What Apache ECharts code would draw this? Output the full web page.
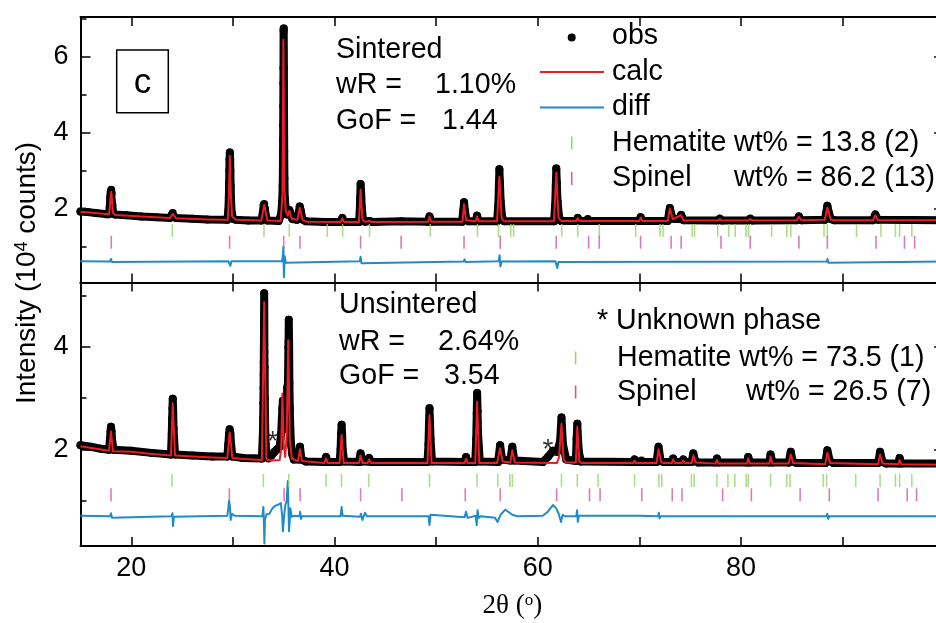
<!DOCTYPE html>
<html><head><meta charset="utf-8">
<script src="https://cdn.jsdelivr.net/npm/echarts@6/dist/echarts.min.js"></script>
<style>html,body{margin:0;padding:0;background:#fff;overflow:hidden}#c{width:960px;height:623px}</style>
</head><body><div id="c"></div><script>
// ---------- DATA (2θ in degrees, intensity in 10^4 counts) ----------
const sinteredObs = [[15.0,1.93],[15.5,1.92],[16.5,1.89],[17.5,1.86],[17.8,1.86],[17.88,2.05],[17.93,2.3],[17.98,2.45],[18.03,2.5],[18.08,2.4],[18.13,2.1],[18.2,1.9],[18.4,1.85],[19.5,1.83],[21,1.8],[22.5,1.78],[23.8,1.76],[24.0,1.85],[24.08,1.89],[24.2,1.8],[24.4,1.76],[26,1.74],[27.5,1.72],[29.45,1.71],[29.55,1.95],[29.6,2.3],[29.63,2.7],[29.65,3.0],[29.67,3.3],[29.7,3.48],[29.73,3.3],[29.75,3.0],[29.78,2.6],[29.82,2.2],[29.88,1.9],[30.0,1.74],[30.3,1.71],[31.5,1.69],[32.8,1.69],[32.95,1.9],[33.03,2.1],[33.08,2.13],[33.15,2.0],[33.25,1.8],[33.4,1.69],[34.5,1.68],[34.75,1.85],[34.85,2.2],[34.9,2.6],[34.92,2.9],[34.93,3.4],[34.94,3.8],[34.95,4.2],[34.96,4.7],[34.97,5.3],[34.98,5.7],[34.99,6.68],[35.0,6.75],[35.02,5.7],[35.03,4.6],[35.05,3.5],[35.07,2.8],[35.1,2.3],[35.2,2.0],[35.35,1.85],[35.55,1.97],[35.65,1.9],[35.85,1.73],[36.3,1.71],[36.48,1.9],[36.58,2.06],[36.68,1.95],[36.85,1.72],[37.2,1.67],[39,1.65],[40.6,1.65],[40.77,1.76],[40.95,1.65],[42.4,1.65],[42.48,1.9],[42.53,2.3],[42.57,2.65],[42.62,2.45],[42.68,2.05],[42.8,1.72],[43.0,1.66],[43.45,1.68],[43.7,1.65],[46.56,1.67],[49.2,1.66],[49.35,1.8],[49.5,1.66],[52.55,1.66],[52.68,1.95],[52.75,2.17],[52.83,1.95],[52.98,1.72],[53.2,1.67],[53.9,1.67],[54.03,1.82],[54.18,1.67],[56.0,1.67],[56.12,2.1],[56.18,2.6],[56.23,3.04],[56.28,2.7],[56.35,2.2],[56.5,1.78],[56.7,1.67],[61.6,1.67],[61.72,2.1],[61.78,2.6],[61.83,3.06],[61.88,2.7],[61.95,2.2],[62.1,1.78],[62.3,1.68],[63.8,1.68],[63.94,1.76],[64.1,1.68],[64.8,1.68],[64.93,1.73],[65.1,1.68],[70.0,1.68],[70.13,1.78],[70.3,1.68],[72.8,1.68],[72.93,1.9],[73.01,2.02],[73.1,1.9],[73.3,1.74],[73.9,1.73],[74.12,1.84],[74.35,1.7],[77.7,1.69],[77.92,1.74],[78.15,1.69],[80.7,1.69],[80.92,1.74],[81.15,1.69],[85.5,1.7],[85.71,1.8],[85.95,1.7],[88.25,1.71],[88.4,1.9],[88.51,2.08],[88.65,1.9],[88.85,1.73],[89.2,1.7],[93.0,1.7],[93.23,1.85],[93.5,1.71],[100,1.7]];
const sinteredCalc = [[15,1.92],[17.8,1.86],[17.9,2.05],[17.97,2.35],[18.03,2.45],[18.1,2.25],[18.2,1.9],[18.4,1.84],[21,1.8],[23.8,1.76],[24.08,1.87],[24.4,1.75],[27.5,1.72],[29.5,1.71],[29.6,2.3],[29.7,3.4],[29.8,2.4],[29.92,1.8],[30.3,1.71],[32.8,1.69],[33.08,2.1],[33.4,1.69],[34.7,1.68],[34.88,2.4],[34.97,6.45],[35.06,2.6],[35.2,1.95],[35.4,1.82],[35.55,1.95],[35.8,1.73],[36.35,1.71],[36.58,2.03],[36.85,1.71],[37.2,1.66],[40.6,1.65],[40.77,1.75],[40.95,1.65],[42.4,1.65],[42.57,2.5],[42.75,1.72],[43.0,1.66],[43.45,1.68],[43.7,1.65],[49.2,1.66],[49.35,1.79],[49.5,1.66],[52.6,1.66],[52.75,2.12],[52.95,1.7],[53.9,1.67],[54.03,1.8],[54.18,1.67],[56.0,1.67],[56.23,2.85],[56.45,1.75],[56.7,1.67],[61.6,1.67],[61.83,2.95],[62.05,1.76],[62.3,1.68],[63.8,1.68],[63.94,1.75],[64.1,1.68],[64.8,1.68],[64.93,1.72],[65.1,1.68],[70.0,1.68],[70.13,1.77],[70.3,1.68],[72.8,1.68],[73.01,2.0],[73.3,1.73],[74.12,1.83],[74.35,1.69],[77.7,1.69],[77.92,1.73],[78.15,1.69],[80.7,1.69],[80.92,1.73],[81.15,1.69],[85.5,1.7],[85.71,1.79],[85.95,1.7],[88.25,1.71],[88.51,2.03],[88.85,1.72],[89.2,1.7],[93.0,1.7],[93.23,1.83],[93.5,1.7],[100,1.7]];
const sinteredDiff = [[15,0.62],[17.9,0.61],[18.0,0.68],[18.1,0.6],[18.2,0.61],[29.55,0.62],[29.65,0.66],[29.75,0.5],[29.85,0.62],[34.85,0.62],[34.92,0.8],[34.97,1.0],[35.02,0.2],[35.1,0.75],[35.2,0.58],[35.3,0.62],[42.5,0.62],[42.57,0.74],[42.65,0.57],[42.75,0.61],[52.7,0.61],[52.8,0.67],[52.9,0.6],[56.15,0.62],[56.25,0.78],[56.33,0.48],[56.45,0.61],[61.75,0.62],[61.85,0.66],[61.92,0.44],[62.05,0.6],[62.2,0.61],[88.45,0.61],[88.52,0.68],[88.6,0.58],[88.7,0.61],[100,0.61]];
const sinteredHematite = [24.04,33.06,35.55,39.29,40.8,43.45,49.43,54.07,56.15,57.35,57.63,62.37,63.94,66.06,69.65,72.04,72.33,75.2,75.44,77.72,78.8,79.44,80.51,80.76,83.03,84.51,84.91,88.18,88.51,91.38,93.78,95.21,95.62,96.82];
const sinteredSpinel = [18.03,29.68,35.0,36.6,42.57,46.56,52.75,56.31,61.82,65.01,66.06,70.13,73.13,74.12,78.04,80.92,85.71,88.51,93.3,96.1,97.1];

const unsinteredObs = [[15,2.08],[16,2.05],[17,2.01],[17.8,1.99],[17.9,2.2],[17.96,2.35],[18.0,2.44],[18.05,2.35],[18.1,2.2],[18.25,1.99],[20,1.97],[22,1.93],[23.9,1.9],[23.98,2.3],[24.02,2.6],[24.05,2.8],[24.08,2.99],[24.12,2.75],[24.16,2.4],[24.3,1.9],[26,1.88],[28,1.86],[29.45,1.86],[29.55,2.1],[29.62,2.3],[29.68,2.39],[29.75,2.3],[29.82,2.1],[29.95,1.86],[31,1.83],[32.85,1.82],[32.95,2.3],[32.98,2.6],[33.0,2.9],[33.02,3.2],[33.03,3.45],[33.04,3.7],[33.05,3.95],[33.08,5.05],[33.1,3.9],[33.12,3.6],[33.14,3.0],[33.17,2.5],[33.22,2.1],[33.35,1.85],[33.5,1.82],[33.8,1.88],[34.1,1.95],[34.35,2.0],[34.6,2.05],[34.75,2.3],[34.82,2.6],[34.87,2.8],[34.92,2.95],[34.97,2.75],[35.05,2.5],[35.15,2.4],[35.25,2.7],[35.35,3.2],[35.42,3.3],[35.46,4.0],[35.48,4.1],[35.5,4.53],[35.53,4.1],[35.56,3.3],[35.6,2.8],[35.65,2.4],[35.72,2.1],[35.85,1.9],[36.0,1.8],[36.45,1.8],[36.6,2.05],[36.75,1.8],[37.2,1.76],[39.0,1.75],[39.17,1.85],[39.35,1.75],[40.5,1.75],[40.6,2.0],[40.65,2.3],[40.7,2.48],[40.75,2.3],[40.8,2.0],[40.95,1.76],[42.4,1.75],[42.57,1.92],[42.75,1.76],[43.25,1.76],[43.4,1.83],[43.6,1.75],[49.15,1.75],[49.25,2.1],[49.3,2.5],[49.35,2.8],[49.4,2.55],[49.45,2.2],[49.6,1.76],[52.8,1.75],[52.95,1.85],[53.1,1.75],[53.85,1.75],[53.95,2.2],[54.0,2.7],[54.04,3.1],[54.08,2.75],[54.13,2.3],[54.3,1.76],[56.1,1.75],[56.3,2.08],[56.5,1.8],[57.3,1.78],[57.5,2.05],[57.7,1.78],[60.5,1.75],[61.0,1.85],[61.5,1.97],[61.9,1.95],[62.2,2.15],[62.28,2.4],[62.34,2.62],[62.4,2.4],[62.48,2.1],[62.8,1.8],[63.75,1.77],[63.83,2.2],[63.9,2.5],[63.97,2.2],[64.05,1.95],[64.25,1.76],[69.4,1.75],[69.53,1.8],[69.7,1.75],[70.1,1.75],[70.21,1.78],[70.4,1.75],[71.7,1.75],[71.89,2.05],[72.1,1.78],[72.4,1.75],[73.2,1.75],[73.33,1.82],[73.5,1.75],[74.2,1.75],[74.33,1.8],[74.5,1.75],[75.15,1.75],[75.32,1.92],[75.5,1.77],[75.8,1.74],[77.5,1.74],[77.64,1.82],[77.8,1.74],[80.6,1.74],[80.72,1.85],[80.9,1.74],[82.8,1.74],[82.92,1.9],[83.1,1.74],[84.7,1.74],[84.91,1.95],[85.1,1.76],[85.5,1.73],[88.3,1.73],[88.51,1.98],[88.75,1.77],[89.1,1.73],[93.5,1.73],[93.7,1.95],[93.95,1.75],[94.3,1.72],[95.5,1.72],[95.62,1.83],[95.8,1.72],[100,1.72]];
const unsinteredCalc = [[15,2.06],[17.8,1.97],[18.0,2.35],[18.2,1.96],[20,1.95],[22,1.91],[23.9,1.88],[24.08,2.9],[24.3,1.88],[26,1.86],[28,1.84],[29.45,1.83],[29.68,2.33],[29.95,1.83],[31,1.81],[32.85,1.79],[33.08,4.88],[33.3,1.8],[33.8,1.78],[34.6,1.79],[34.75,2.0],[34.87,3.09],[35.0,2.1],[35.15,1.85],[35.3,2.3],[35.45,4.13],[35.6,2.2],[35.8,1.82],[36.4,1.77],[36.6,2.0],[36.8,1.77],[39.0,1.73],[39.17,1.82],[39.35,1.73],[40.5,1.73],[40.7,2.28],[40.9,1.73],[42.4,1.73],[42.57,1.88],[42.75,1.73],[43.25,1.73],[43.4,1.8],[43.6,1.73],[49.15,1.73],[49.35,2.67],[49.55,1.73],[52.8,1.73],[52.95,1.82],[53.1,1.73],[53.85,1.73],[54.04,2.93],[54.25,1.73],[56.0,1.73],[56.3,2.02],[56.55,1.76],[57.3,1.74],[57.5,1.98],[57.75,1.74],[61.9,1.73],[62.1,1.85],[62.34,2.5],[62.55,1.8],[62.8,1.74],[63.75,1.74],[63.9,2.44],[64.1,1.76],[64.3,1.73],[69.4,1.73],[69.53,1.78],[69.7,1.73],[70.1,1.73],[70.21,1.76],[70.4,1.73],[71.7,1.73],[71.89,2.0],[72.15,1.75],[72.4,1.73],[73.2,1.73],[73.33,1.8],[73.5,1.73],[74.2,1.73],[74.33,1.78],[74.5,1.73],[75.15,1.73],[75.32,1.88],[75.55,1.74],[77.5,1.72],[77.64,1.79],[77.8,1.72],[80.6,1.72],[80.72,1.82],[80.9,1.72],[82.8,1.72],[82.92,1.86],[83.1,1.72],[84.7,1.72],[84.91,1.9],[85.15,1.73],[88.3,1.71],[88.51,1.93],[88.8,1.73],[93.5,1.71],[93.7,1.9],[93.95,1.72],[95.5,1.71],[95.62,1.79],[95.8,1.71],[100,1.7]];
const unsinteredDiff = [[15,0.7],[17.9,0.69],[18.0,0.75],[18.1,0.66],[18.2,0.69],[23.95,0.69],[24.05,0.75],[24.1,0.5],[24.2,0.68],[29.45,0.7],[29.55,0.85],[29.62,1.0],[29.7,0.9],[29.78,0.62],[29.9,0.74],[30.2,0.7],[32.9,0.69],[33.0,0.87],[33.06,0.5],[33.1,0.16],[33.15,0.62],[33.3,0.73],[33.6,0.74],[33.9,0.85],[34.2,0.9],[34.5,0.92],[34.72,0.95],[34.85,0.7],[34.92,0.4],[35.0,0.6],[35.15,0.9],[35.3,1.0],[35.4,1.38],[35.45,1.0],[35.52,0.4],[35.58,0.55],[35.65,0.85],[35.8,0.68],[36.0,0.7],[36.55,0.69],[36.62,0.78],[36.7,0.64],[36.8,0.69],[40.6,0.69],[40.7,0.87],[40.8,0.7],[42.5,0.68],[42.6,0.74],[42.75,0.62],[43.0,0.76],[43.2,0.69],[49.25,0.69],[49.35,0.52],[49.45,0.72],[49.6,0.69],[52.8,0.67],[52.95,0.78],[53.1,0.66],[53.9,0.7],[54.0,0.52],[54.08,0.81],[54.2,0.66],[54.4,0.69],[55.8,0.66],[56.05,0.58],[56.35,0.72],[56.8,0.82],[57.1,0.78],[57.5,0.72],[58.0,0.69],[60.5,0.7],[61.0,0.78],[61.5,0.91],[61.8,0.85],[62.05,0.75],[62.3,0.58],[62.45,0.72],[62.7,0.69],[63.8,0.69],[63.88,0.81],[63.95,0.58],[64.05,0.7],[70,0.7],[71.85,0.69],[71.92,0.76],[72.0,0.65],[72.1,0.69],[88.4,0.69],[88.5,0.74],[88.6,0.64],[88.7,0.69],[100,0.69]];
const unsinteredHematite = [24.0,33.0,35.5,39.17,40.69,43.37,49.35,54.03,56.07,57.26,57.51,62.34,63.9,65.94,69.53,71.93,72.21,75.13,75.4,77.64,78.72,79.4,80.51,80.72,82.92,84.51,84.83,88.1,88.43,91.3,93.7,95.21,95.62,96.82];
const unsinteredSpinel = [18.0,29.65,35.04,36.62,42.57,46.64,52.87,56.31,61.86,65.1,66.14,70.25,73.24,74.2,78.2,81.03,85.83,88.7,93.5,96.37,97.29];
const unknownPhase = [[33.91,2.14],[61.0,1.98]];

// reflection-marker rows (intensity level of each tick row)
const tickRows = { sintered: {hematite: 1.43, spinel: 1.12}, unsintered: {hematite: 1.39, spinel: 1.11} };

const xLabels = [20, 40, 60, 80];
const yLabels = [2, 4, 6];
const panelRange = { sintered: [0.06, 7.05], unsintered: [0.11, 5.26] };

const legendTop = ['obs', 'calc', 'diff', 'Hematite', 'wt% = 13.8 (2)', 'Spinel', 'wt% = 86.2 (13)'];
const legendBottom = ['* Unknown phase', 'Hematite wt% = 73.5 (1)', 'Spinel', 'wt% = 26.5 (7)'];
const statsTop = ['Sintered', 'wR =', '1.10%', 'GoF =', '1.44'];
const statsBottom = ['Unsintered', 'wR =', '2.64%', 'GoF =', '3.54'];

// ---------- STYLE ----------
const SANS = 'Liberation Sans, Arial, sans-serif';
const SERIF = 'Liberation Serif, Times New Roman, serif';
const RED = '#ec1c24', BLUE = '#1f8bc8', GREEN = '#9bd36f', PINK = '#d45aa0';
const FS = 28.6;

const chart = echarts.init(document.getElementById('c'), null, {renderer: 'canvas'});

function xAx(grid, pos, showLabel, extra) {
  return Object.assign({
    type: 'value', gridIndex: grid, position: pos, min: 15, max: 100,
    minInterval: 10, maxInterval: 10,
    axisLine: {show: true, onZero: false, lineStyle: {color: '#000', width: 2}},
    axisTick: {show: true, inside: true, length: 9, lineStyle: {color: '#000', width: 1.5}},
    axisLabel: {show: showLabel, color: '#000', fontFamily: SANS, fontSize: 27, margin: 9,
      formatter: v => (xLabels.indexOf(Math.round(v)) >= 0 && Math.abs(v - Math.round(v)) < 1e-6) ? String(Math.round(v)) : ''},
    splitLine: {show: false}
  }, extra || {});
}
function yAx(grid, pos, range, step, len, showLine, showLabel) {
  return {
    type: 'value', gridIndex: grid, position: pos, min: range[0], max: range[1],
    minInterval: step, maxInterval: step,
    axisLine: {show: showLine, onZero: false, lineStyle: {color: '#000', width: 2}},
    axisTick: {show: true, inside: true, length: len, lineStyle: {color: '#000', width: 1.5}},
    axisLabel: {show: showLabel, color: '#000', fontFamily: SANS, fontSize: 27, margin: 12,
      formatter: v => (yLabels.indexOf(Math.round(v)) >= 0 && Math.abs(v - Math.round(v)) < 1e-6) ? String(Math.round(v)) : ''},
    splitLine: {show: false}
  };
}

function obsSeries(data, xi, yi) {
  return {type: 'line', xAxisIndex: xi, yAxisIndex: yi, data: data, z: 2,
    lineStyle: {color: '#000', width: 8, join: 'round', cap: 'round'},
    symbol: 'circle', symbolSize: 8, showSymbol: true, showAllSymbol: true,
    itemStyle: {color: '#000'}, silent: true, animation: false};
}
function lineSeries(data, xi, yi, color, w) {
  return {type: 'line', xAxisIndex: xi, yAxisIndex: yi, data: data, z: 3, showSymbol: false, symbol: 'none',
    lineStyle: {color: color, width: w, join: 'round'}, silent: true, animation: false};
}
function tickSeries(pos, level, xi, yi, color) {
  return {type: 'scatter', xAxisIndex: xi, yAxisIndex: yi, data: pos.map(p => [p, level]), z: 4,
    symbol: 'rect', symbolSize: [1.6, 13], itemStyle: {color: color}, silent: true, animation: false};
}

function txt(x, y, s, size, align, fam) {
  return {type: 'text', x: x, y: y, silent: true,
    style: {text: s, fontSize: size || FS, fontFamily: fam || SANS, fill: '#000',
      align: align || 'left', verticalAlign: 'middle', textAlign: align || 'left', textVerticalAlign: 'middle'}};
}

const gridL = 80.5, gridW = 863.6;

const option = {
  backgroundColor: '#fff',
  animation: false,
  grid: [
    {left: gridL, width: gridW, top: 17, height: 265.5, containLabel: false, outerBoundsMode: 'none'},
    {left: gridL, width: gridW, top: 282.5, height: 263.5, containLabel: false, outerBoundsMode: 'none'}
  ],
  xAxis: [
    xAx(0, 'bottom', false),
    xAx(0, 'top', false),
    xAx(1, 'bottom', true, {name: '2θ ({sup|o})', nameLocation: 'middle', nameGap: 46,
      nameTextStyle: {fontFamily: SERIF, fontSize: 27, color: '#000',
        rich: {sup: {fontFamily: SERIF, fontSize: 17, verticalAlign: 'top', color: '#000'}}}}),
    xAx(1, 'top', false)
  ],
  yAxis: [
    yAx(0, 'left', panelRange.sintered, 2, 10, true, true),
    yAx(0, 'left', panelRange.sintered, 1, 6, false, false),
    yAx(0, 'right', panelRange.sintered, 2, 10, true, false),
    yAx(1, 'left', panelRange.unsintered, 2, 10, true, true),
    yAx(1, 'left', panelRange.unsintered, 1, 6, false, false),
    yAx(1, 'right', panelRange.unsintered, 2, 10, true, false)
  ],
  series: [
    obsSeries(sinteredObs, 0, 0),
    lineSeries(sinteredCalc, 0, 0, RED, 2),
    lineSeries(sinteredDiff, 0, 0, BLUE, 2),
    tickSeries(sinteredHematite, tickRows.sintered.hematite, 0, 0, GREEN),
    tickSeries(sinteredSpinel, tickRows.sintered.spinel, 0, 0, PINK),
    obsSeries(unsinteredObs, 2, 3),
    lineSeries(unsinteredCalc, 2, 3, RED, 2),
    lineSeries(unsinteredDiff, 2, 3, BLUE, 2),
    tickSeries(unsinteredHematite, tickRows.unsintered.hematite, 2, 3, GREEN),
    tickSeries(unsinteredSpinel, tickRows.unsintered.spinel, 2, 3, PINK),
    {type: 'scatter', xAxisIndex: 2, yAxisIndex: 3, data: unknownPhase, z: 5, symbolSize: 1,
      itemStyle: {color: 'rgba(0,0,0,0)'}, silent: true,
      label: {show: true, position: 'inside', formatter: '*', fontFamily: SANS, fontSize: 28, color: '#000'}}
  ],
  graphic: [
    // panel label
    {type: 'rect', shape: {x: 116.7, y: 50, width: 51.6, height: 62.7}, style: {fill: 'none', stroke: '#000', lineWidth: 1.5}, silent: true},
    txt(142.5, 83.5, 'c', 35, 'center'),
    // y-axis title
    {type: 'text', x: 27, y: 273, rotation: Math.PI / 2, silent: true,
      style: {text: 'Intensity (10{sup|4} counts)', fontSize: 28, fontFamily: SANS, fill: '#000',
        align: 'center', verticalAlign: 'middle', textAlign: 'center', textVerticalAlign: 'middle',
        rich: {sup: {fontSize: 18, fontFamily: SANS, verticalAlign: 'top', fill: '#000'}}}},
    // top statistics
    txt(336, 50, statsTop[0]), txt(336, 85.5, statsTop[1]), txt(435, 85.5, statsTop[2]),
    txt(336, 121, statsTop[3]), txt(442, 121, statsTop[4]),
    // top legend
    {type: 'circle', shape: {cx: 571.7, cy: 37.5, r: 4}, style: {fill: '#000'}, silent: true},
    txt(612, 36, legendTop[0]),
    {type: 'line', shape: {x1: 540, y1: 72, x2: 604, y2: 72}, style: {stroke: RED, lineWidth: 2}, silent: true},
    txt(612, 72, legendTop[1]),
    {type: 'line', shape: {x1: 540, y1: 107.5, x2: 604, y2: 107.5}, style: {stroke: BLUE, lineWidth: 2}, silent: true},
    txt(612, 107, legendTop[2]),
    {type: 'rect', shape: {x: 570.9, y: 136.5, width: 1.6, height: 13}, style: {fill: GREEN}, silent: true},
    txt(612, 143, legendTop[3]), txt(734, 143, legendTop[4]),
    {type: 'rect', shape: {x: 570.9, y: 172, width: 1.6, height: 13}, style: {fill: PINK}, silent: true},
    txt(612, 178, legendTop[5]), txt(734, 178, legendTop[6]),
    // bottom statistics
    txt(339, 305, statsBottom[0]), txt(339, 342, statsBottom[1]), txt(438, 342, statsBottom[2]),
    txt(339, 376, statsBottom[3]), txt(444, 376, statsBottom[4]),
    // bottom legend
    txt(597, 321, legendBottom[0]),
    {type: 'rect', shape: {x: 574.8, y: 351.5, width: 1.6, height: 13}, style: {fill: GREEN}, silent: true},
    txt(617, 358, legendBottom[1]),
    {type: 'rect', shape: {x: 574.8, y: 385.5, width: 1.6, height: 13}, style: {fill: PINK}, silent: true},
    txt(617, 392, legendBottom[2]), txt(746, 392, legendBottom[3])
  ]
};
chart.setOption(option);
</script></body></html>
